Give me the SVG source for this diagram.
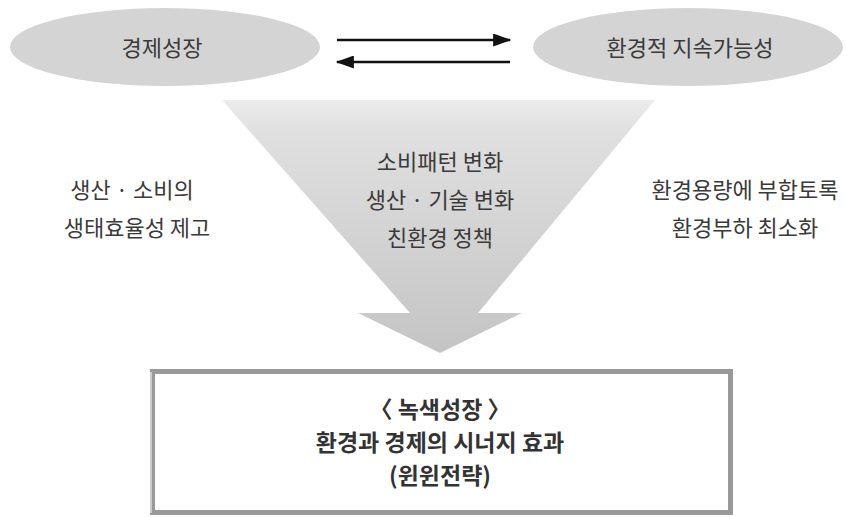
<svg xmlns="http://www.w3.org/2000/svg" width="847" height="517" viewBox="0 0 847 517">
<defs>
<style>
.t{font-family:"Noto Sans CJK KR","Noto Sans",sans-serif;fill:#3a3a3a;text-anchor:middle;font-size:22px}
.e{fill:#d4d4d4}
.c{stroke:#111;stroke-width:2.5;fill:none}
.b{font-size:23px;font-weight:bold;fill:#333}
</style>
<linearGradient id="g" x1="0" y1="0" x2="0" y2="1">
<stop offset="0" stop-color="#ececec"/>
<stop offset="0.12" stop-color="#e0e0e0"/>
<stop offset="1" stop-color="#c4c4c4"/>
</linearGradient>
<marker id="ah" viewBox="0 0 14 10" refX="13" refY="5" markerWidth="7.5" markerHeight="5.2" orient="auto" markerUnits="strokeWidth">
<path d="M0,0 L14,5 L0,10 z" fill="#111"/>
</marker>
</defs>
<rect width="847" height="517" fill="#fff"/>
<g id="flow">
<path d="M222,100 L655,100 L478,313 L522,313 L440,353 L358,313 L410,313 Z" fill="url(#g)"/>
<text class="t" x="440" y="170">소비패턴 변화</text>
<text class="t" x="440" y="208">생산 · 기술 변화</text>
<text class="t" x="440" y="246">친환경 정책</text>
</g>
<g id="growth">
<ellipse class="e" cx="165" cy="47" rx="155" ry="39"/>
<text class="t" x="162" y="56">경제성장</text>
</g>
<g id="sustain">
<ellipse class="e" cx="688" cy="47" rx="155" ry="39"/>
<text class="t" x="690" y="56">환경적 지속가능성</text>
</g>
<g id="connectors">
<line class="c" x1="337" y1="40" x2="510" y2="40" marker-end="url(#ah)"/>
<line class="c" x1="510" y1="62" x2="337" y2="62" marker-end="url(#ah)"/>
</g>
<g id="left-label">
<text class="t" x="132" y="198">생산 · 소비의</text>
<text class="t" x="137" y="236">생태효율성 제고</text>
</g>
<g id="right-label">
<text class="t" x="745" y="198">환경용량에 부합토록</text>
<text class="t" x="745" y="236">환경부하 최소화</text>
</g>
<g id="result">
<rect x="152.5" y="371.5" width="578" height="141" fill="#fff" stroke="#999" stroke-width="5"/>
<line x1="151" y1="372" x2="151" y2="513" stroke="#fff" stroke-width="1"/>
<text class="t b" x="440" y="418">〈 녹색성장 〉</text>
<text class="t b" x="440" y="451">환경과 경제의 시너지 효과</text>
<text class="t b" x="440" y="484">(윈윈전략)</text>
</g>
</svg>
